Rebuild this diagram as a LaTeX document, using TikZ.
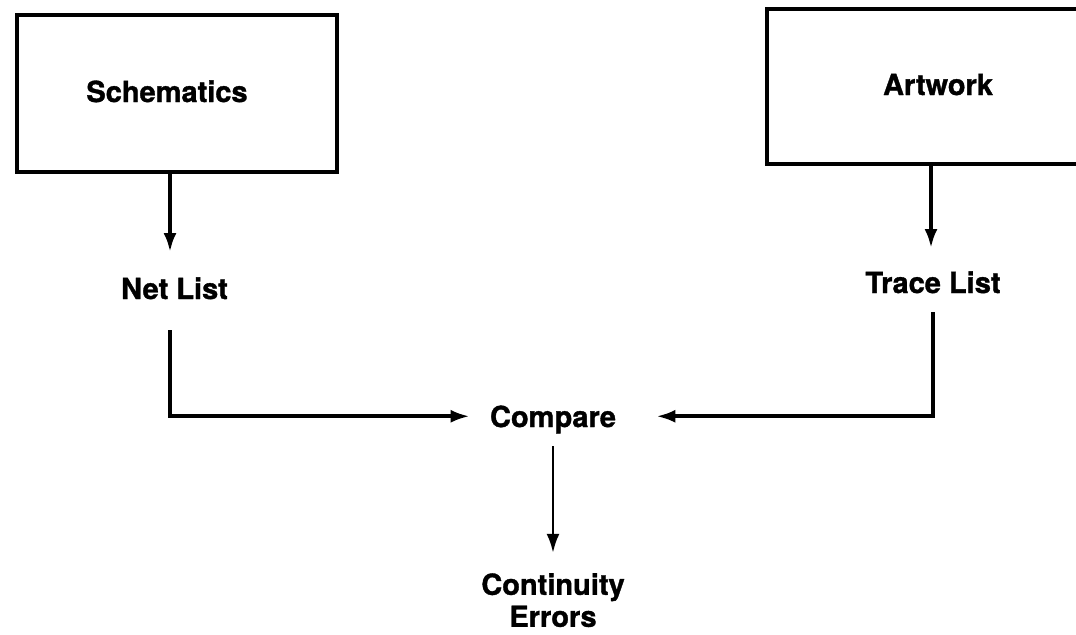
\documentclass[tikz,border=0pt]{standalone}
\usepackage{fontspec}
\setmainfont{TeX Gyre Heros}[BoldFeatures={FakeBold=1.2}]
\usetikzlibrary{arrows.meta}

\begin{document}
\begin{tikzpicture}[x=0.5pt, y=-0.5pt,
  box/.style={draw, line width=2.4pt, inner sep=0pt, minimum width=160pt},
  lbl/.style={font=\fontsize{14.5}{16}\selectfont\bfseries, inner sep=2pt, text depth=0pt, align=center},
  flow/.style={line width=1.8pt, -{Latex[length=9.5pt,width=6.5pt]}}]
\useasboundingbox (0,0) rectangle (1076,634);
\node[box, minimum height=78.5pt] (schembox) at (177,93.5) {};
\node[box, minimum height=77.5pt] (artbox) at (927,86.5) {};
\node[lbl, anchor=base] (schem) at (167,102) {Schematics};
\node[lbl, anchor=base] (art) at (938,95) {Artwork};
\node[lbl, anchor=base] (netlist) at (174.5,299) {Net List};
\node[lbl, anchor=base] (tracelist) at (933,293) {Trace List};
\node[lbl, anchor=base] (compare) at (553,427) {Compare};
\node[lbl] (errors) at (553,600) {Continuity\\Errors};
\coordinate (nettop) at ([xshift=-2.25pt]netlist.north);
\coordinate (netbot) at ([xshift=-2.25pt]netlist.south);
\coordinate (tracetop) at ([xshift=-1pt]tracelist.north);
\draw[flow, shorten >=10.5pt] (schembox.south -| nettop) -- (nettop);
\draw[flow, shorten >=9.5pt] (artbox.south -| tracetop) -- (tracetop);
\draw[flow, shorten <=13.5pt, shorten >=8pt] (netbot) |- (compare.west);
\draw[flow, shorten <=7.5pt, shorten >=18pt] (tracelist.south) |- (compare.east);
\draw[flow, line width=1.3pt, shorten <=7.5pt, shorten >=8pt] (compare) -- (errors);
\end{tikzpicture}
\end{document}
